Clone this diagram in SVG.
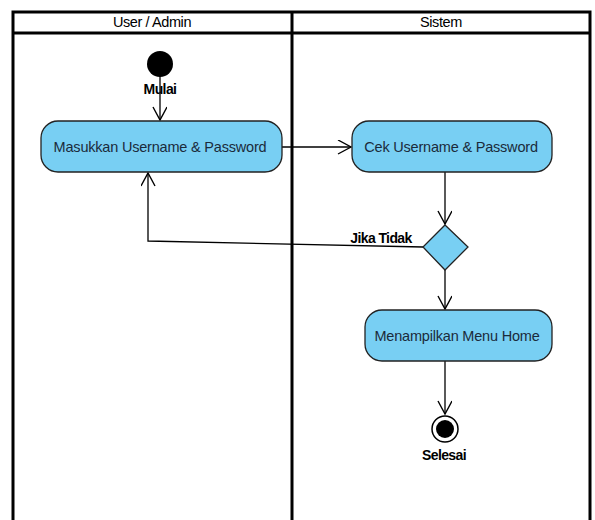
<svg xmlns="http://www.w3.org/2000/svg" width="595" height="520" viewBox="0 0 595 520">
<style>
.lane{fill:none;stroke:#000;stroke-width:3}
.act{fill:#78CFF3;stroke:#222;stroke-width:1.3}
.atxt{font-family:"Liberation Sans",Arial,sans-serif;font-size:14.5px;fill:#1b2b3b;text-anchor:middle;letter-spacing:-0.2px}
.htxt{font-family:"Liberation Sans",Arial,sans-serif;font-size:14.5px;fill:#000;text-anchor:middle;letter-spacing:-0.4px}
.lbl{font-family:"Liberation Sans",Arial,sans-serif;font-size:14px;font-weight:bold;fill:#000;text-anchor:middle;letter-spacing:-0.6px}
.edge{fill:none;stroke:#000;stroke-width:1.3}
</style>
<defs>
<marker id="open" markerWidth="16" markerHeight="16" refX="14" refY="7" orient="auto" markerUnits="userSpaceOnUse">
<path d="M1,0 L14,7 L1,14" fill="none" stroke="#000" stroke-width="1.4"/>
</marker>
</defs>
<rect width="595" height="520" fill="#fff"/>
<g id="lanes">
<path class="lane" d="M13,530 V12 H590 V530 M13,33 H590 M292,12 V530"/>
<text class="htxt" x="152" y="27">User / Admin</text>
<text class="htxt" x="441" y="27">Sistem</text>
</g>
<g id="connectors">
<path class="edge" d="M160,66 V120" marker-end="url(#open)"/>
<path class="edge" d="M282,147 H351" marker-end="url(#open)"/>
<path class="edge" d="M445,172 V224" marker-end="url(#open)"/>
<path class="edge" d="M423,247 L148,241 V173" marker-end="url(#open)"/>
<path class="edge" d="M445,270 V309" marker-end="url(#open)"/>
<path class="edge" d="M445,361 V414" marker-end="url(#open)"/>
<text class="lbl" x="381" y="243">Jika Tidak</text>
</g>
<g id="start">
<circle cx="160" cy="64" r="13" fill="#000"/>
<text class="lbl" x="160" y="94">Mulai</text>
</g>
<g id="masukkan">
<rect class="act" x="41" y="121" width="241" height="51" rx="17"/>
<text class="atxt" x="160" y="152">Masukkan Username &amp; Password</text>
</g>
<g id="cek">
<rect class="act" x="352" y="121" width="200" height="51" rx="17"/>
<text class="atxt" x="451" y="152">Cek Username &amp; Password</text>
</g>
<g id="decision">
<polygon class="act" points="445,225 468,247 445,270 423,247"/>
</g>
<g id="menu">
<rect class="act" x="365" y="310" width="187" height="51" rx="17"/>
<text class="atxt" x="457" y="341">Menampilkan Menu Home</text>
</g>
<g id="end">
<circle cx="445" cy="429" r="13" fill="#fff" stroke="#000" stroke-width="1.5"/>
<circle cx="445" cy="429" r="9" fill="#000"/>
<text class="lbl" x="444" y="460">Selesai</text>
</g>
</svg>
